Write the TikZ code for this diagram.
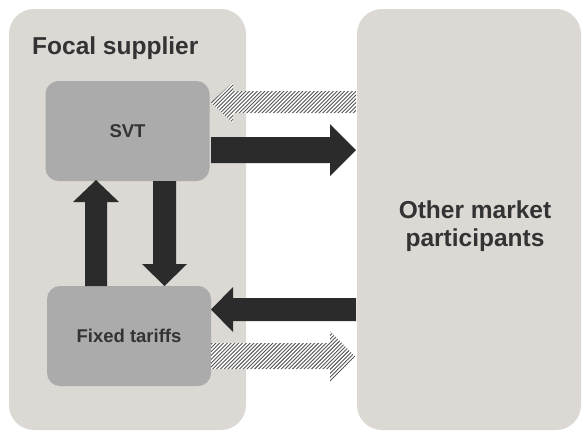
\documentclass[tikz,border=0pt]{standalone}
\usepackage{fontspec}
\setmainfont{Liberation Sans}
\definecolor{panel}{HTML}{DCD8D4}
\definecolor{inner}{HTML}{ABABAB}
\definecolor{arr}{HTML}{2B2B2B}
\definecolor{hatch}{HTML}{555555}
\definecolor{txt}{HTML}{333333}
\begin{document}
\begin{tikzpicture}[x=1pt,y=-1pt,
  panelbox/.style={draw=none,fill=panel,rounded corners=25pt,inner sep=0pt},
  tariffbox/.style={draw=none,fill=inner,rounded corners=13pt,inner sep=0pt,
    minimum width=164pt,minimum height=100pt,text=txt,font=\bfseries\fontsize{18.5}{22}\selectfont},
  blackarrow/.style={fill=arr,draw=none},
  stripe/.style={draw=hatch,line width=0.9pt},
  bigtext/.style={text=txt,font=\bfseries\fontsize{24.5}{27.5}\selectfont,inner sep=0pt}]
\useasboundingbox (0,0) rectangle (583,432);
\fill[white] (0,0) rectangle (583,432);
% panels
\node[panelbox,minimum width=237pt,minimum height=421pt] (focal) at (127.5,219.5) {};
\node[panelbox,minimum width=224pt,minimum height=421pt] (other) at (469,219.5) {};
\node[bigtext,anchor=base west] (focallabel) at (32,54) {Focal supplier};
\node[bigtext,align=center] (otherlabel) at (475,226) {Other market\\participants};
% inner boxes
\node[tariffbox] (svt) at (127.5,131) {SVT};
\node[tariffbox] (fixed) at (129,336) {Fixed tariffs};
% hatched arrows
\begin{scope}
\clip (356,91) -- (233,91) -- (233,82) -- (211,102.5) -- (233,123) -- (233,113) -- (356,113) -- cycle;
\fill[white] (200,75) rectangle (360,130);
\foreach \a in {150,153.8,...,370} {\draw[stripe] (\a,130) -- (\a+55,75);}
\end{scope}
\begin{scope}
\clip (211,343) -- (330,343) -- (330,331) -- (355,356.5) -- (330,382) -- (330,369) -- (211,369) -- cycle;
\fill[white] (200,325) rectangle (360,390);
\foreach \a in {150,153.8,...,370} {\draw[stripe] (\a,390) -- (\a+65,325);}
\end{scope}
% black arrows
\path[blackarrow] (211,137) -- (330,137) -- (330,124) -- (356,150) -- (330,176) -- (330,163) -- (211,163) -- cycle;
\path[blackarrow] (356,298) -- (233,298) -- (233,287) -- (211,309.5) -- (233,332) -- (233,321) -- (356,321) -- cycle;
\path[blackarrow] (85,286) -- (85,202) -- (73,202) -- (96,180) -- (119,202) -- (107,202) -- (107,286) -- cycle;
\path[blackarrow] (153,181) -- (153,264) -- (142,264) -- (164.5,286) -- (187,264) -- (176,264) -- (176,181) -- cycle;
\end{tikzpicture}
\end{document}
